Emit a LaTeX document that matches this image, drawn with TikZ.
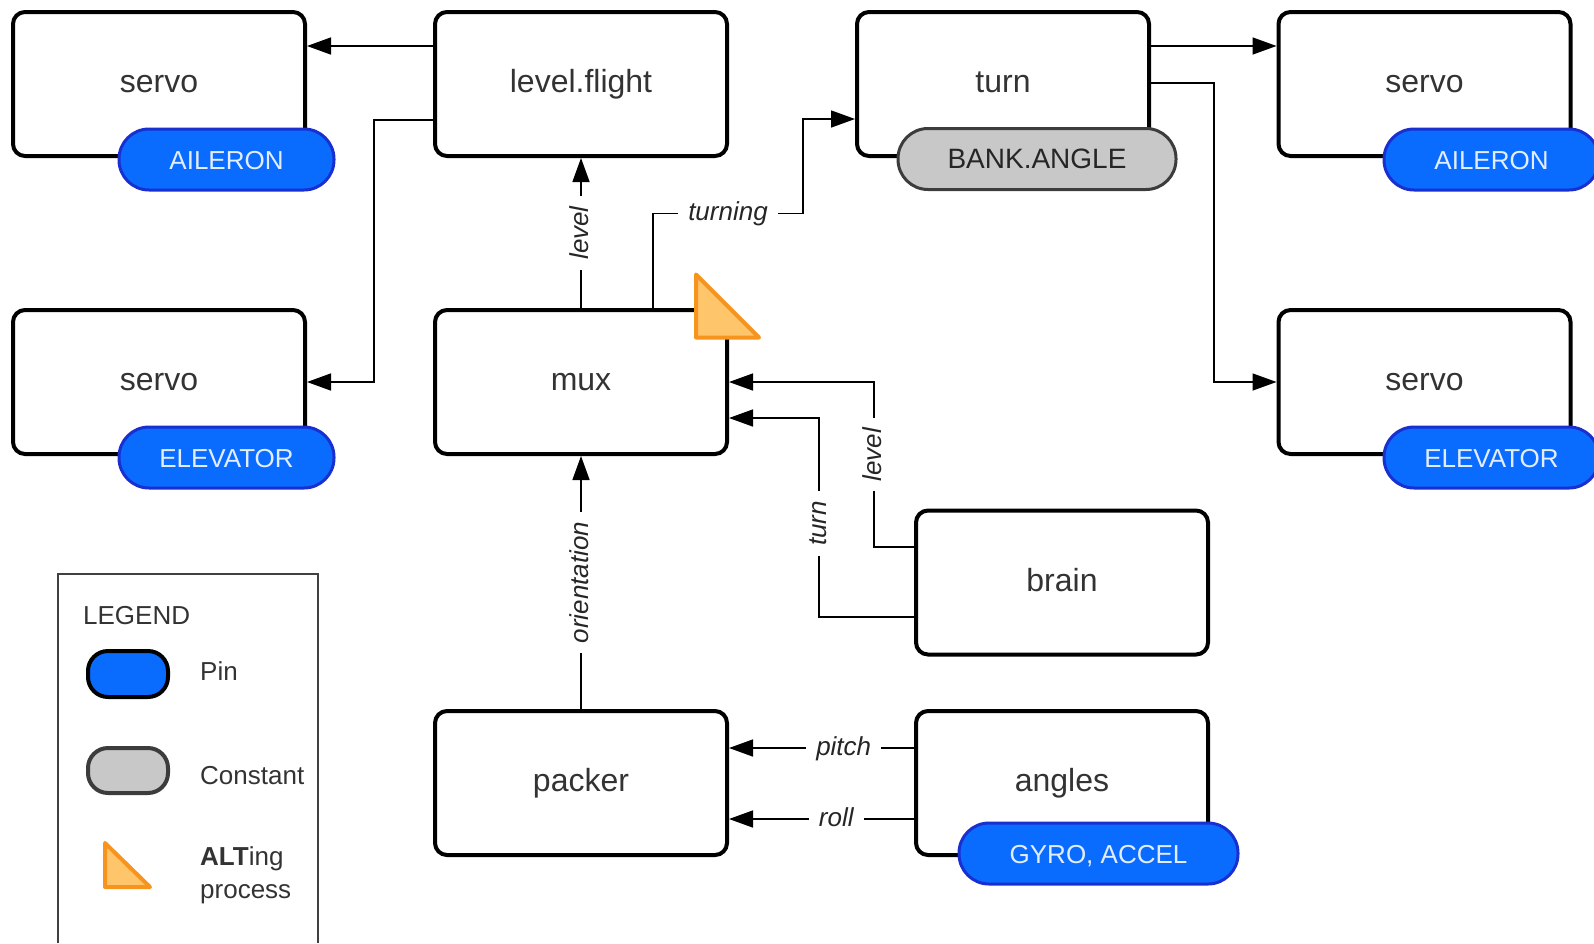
\documentclass[tikz,border=0pt]{standalone}
\usepackage{fontspec}
\setmainfont{Liberation Sans}
\usetikzlibrary{arrows.meta}
\definecolor{pinblue}{HTML}{0A6CFF}
\definecolor{pinedge}{HTML}{1A2FD0}
\definecolor{constgray}{HTML}{C8C8C8}
\definecolor{constedge}{HTML}{3C3C3C}
\definecolor{altfill}{HTML}{FFC56B}
\definecolor{altedge}{HTML}{F7941D}
\definecolor{boxtext}{HTML}{333333}

\tikzset{
  procbox/.style={draw, line width=4pt, rounded corners=12pt, minimum width=292pt,
    minimum height=144pt, fill=white, text=boxtext, inner sep=0pt,
    font=\fontsize{32}{38}\selectfont, text height=24pt, text depth=7pt},
  pinbox/.style={draw=pinedge, fill=pinblue, line width=3pt, rounded corners=30pt,
    minimum width=215pt, minimum height=61pt, inner sep=0pt, text=white!88!pinblue,
    font=\fontsize{26}{30}\selectfont, text height=19pt, text depth=0pt},
  constbox/.style={pinbox, draw=constedge, fill=constgray, text=black!85},
  lbl/.style={fill=white, inner xsep=10pt, inner ysep=2pt, text=black!85,
    font=\fontsize{26}{30}\selectfont\itshape, text height=19pt, text depth=5pt},
  flow/.style={line width=1.5pt, -{Triangle[length=24pt,width=17pt]}},
  altmark/.style={draw=altedge, fill=altfill, line width=4pt, line join=round},
  legtext/.style={anchor=west, text=boxtext, font=\fontsize{26}{33}\selectfont, inner sep=0pt},
}

\begin{document}
\begin{tikzpicture}[x=1pt,y=-1pt]
  \useasboundingbox (0,0) rectangle (1594,943);

  \node[procbox] (servoAil)   at (159,84)     {servo};
  \node[procbox] (lflight)    at (581,84)     {level.flight};
  \node[procbox] (turn)       at (1003,84)    {turn};
  \node[procbox] (servoAilR)  at (1424.5,84)  {servo};
  \node[procbox] (servoElev)  at (159,382)    {servo};
  \node[procbox] (mux)        at (581,382)    {mux};
  \node[procbox] (servoElevR) at (1424.5,382) {servo};
  \node[procbox] (brain)      at (1062,582.5) {brain};
  \node[procbox] (packer)     at (581,783)    {packer};
  \node[procbox] (angles)     at (1062,783)   {angles};

  \node[pinbox] (pinAil)    at (226.5,159.5)  {AILERON};
  \node[constbox, minimum width=278pt, font=\fontsize{28}{32}\selectfont] (pinBank) at (1037,159) {BANK.ANGLE};
  \node[pinbox] (pinAilR)   at (1491.5,159.5) {AILERON};
  \node[pinbox] (pinElev)   at (226.5,457.5)  {ELEVATOR};
  \node[pinbox] (pinElevR)  at (1491.5,457.5) {ELEVATOR};
  \node[pinbox, minimum width=279pt] (pinGyro) at (1098.5,853.5) {GYRO, ACCEL};

  \draw[altmark] (696,274.5) -- (696,337.5) -- (759,337.5) -- cycle;

  \draw[flow] ([yshift=38pt]lflight.west) -- ([yshift=38pt]servoAil.east);
  \draw[flow] ([yshift=-36pt]lflight.west) -| ([xshift=67pt]servoElev.east) -- (servoElev.east);
  \draw[flow] (mux.north) -- node[lbl,rotate=90] (lLevel) {level} (lflight.south);
  \draw[flow] ([xshift=72pt]mux.north) -- ++(0,-94.5)
    -- node[lbl] (lTurning) {turning} ++(150,0) |- ([yshift=-35pt]turn.west);
  \draw[flow] ([yshift=38pt]turn.east) -- ([yshift=38pt]servoAilR.west);
  \draw[flow] ([yshift=1pt]turn.east) -- ++(63,0) |- (servoElevR.west);
  \draw[flow] ([yshift=35.5pt]brain.west) -- ++(-40,0)
    |- node[lbl,rotate=90,pos=0.28] (lLevelB) {level} (mux.east);
  \draw[flow] ([yshift=-34.5pt]brain.west) -- ++(-95,0)
    |- node[lbl,rotate=90,pos=0.235] (lTurn) {turn} ([yshift=-36pt]mux.east);
  \draw[flow] (packer.north) -- node[lbl,rotate=90] (lOrient) {orientation} (mux.south);
  \draw[flow] ([yshift=35pt]angles.west) -- node[lbl,pos=0.38] (lPitch) {pitch} ([yshift=35pt]packer.east);
  \draw[flow] ([yshift=-36pt]angles.west) -- node[lbl,pos=0.42] (lRoll) {roll} ([yshift=-36pt]packer.east);

  \draw[line width=1.5pt, draw=black!75] (58,943) |- (318,574) -- (318,943);
  \node[legtext] (legTitle) at (83,616) {LEGEND};
  \node[pinbox, draw=black, line width=4pt, minimum width=80pt, minimum height=46pt,
    rounded corners=20pt] (legPin) at (128,674) {};
  \node[legtext] (legPinTxt) at (200,671) {Pin};
  \node[constbox, line width=4pt, minimum width=80pt, minimum height=45pt,
    rounded corners=20pt] (legConst) at (128,770.5) {};
  \node[legtext] (legConstTxt) at (200,776) {Constant};
  \draw[altmark] (105,843) -- (105,887) -- (150,887) -- cycle;
  \node[legtext, align=left] (legAltTxt) at (200,875.5) {\textbf{ALT}ing\\process};
\end{tikzpicture}
\end{document}
